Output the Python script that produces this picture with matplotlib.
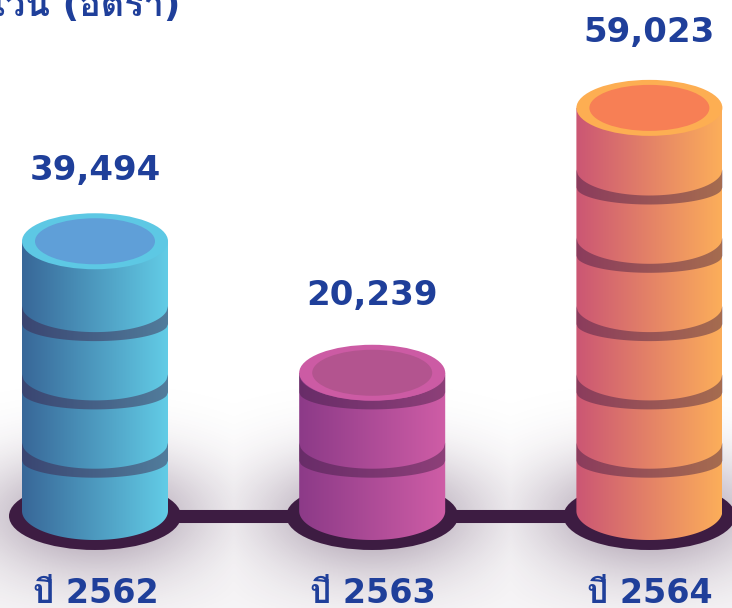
import numpy as np
import matplotlib
matplotlib.use("Agg")
import matplotlib.pyplot as plt
from matplotlib import font_manager as fm
from matplotlib.ft2font import FT2Font
from matplotlib.colors import LinearSegmentedColormap, to_rgb
from matplotlib.patches import Ellipse, Polygon

# ---- data ----
categories = ["ปี 2562", "ปี 2563", "ปี 2564"]
values = [39494, 20239, 59023]
value_labels = ["39,494", "20,239", "59,023"]
title = "จำนวน (อัตรา)"
ring_step = 10000

# ---- style ----
left_cols = ["#386798", "#8c3a88", "#cb5674"]
right_cols = ["#62cce6", "#cf5da6", "#fcae5a"]
rim_cols = ["#5dc8e4", "#cc5ba4", "#fdae52"]
inner_cols = ["#5f9fd8", "#b3548f", "#f77f55"]
base_col = "#3d1c42"
text_col = "#1f3f9a"
label_offsets = [71, 77, 75]   # px above the bar top

# font with Thai glyphs, when one is installed
thai = None
for f in fm.fontManager.ttflist:
    try:
        if 0x0E1B in FT2Font(f.fname).get_charmap():
            thai = f.name
            break
    except Exception:
        pass
fam = ["DejaVu Sans"] + ([thai] if thai else [])

W, H = 732, 608
XU = 277.2      # px per category
YU = 0.00683    # px per value
Y0 = 511        # px of value 0
X0 = 95
fig = plt.figure(figsize=(W / 100, H / 100), dpi=100)
ax = fig.add_axes([0, 0, 1, 1])
xlim = (-X0 / XU, (W - X0) / XU)
ylim = (-(H - Y0) / YU, Y0 / YU)
ax.axis("off")

hw = 73 / XU
hh = 29 / YU
top_hh = 28 / YU
t = np.linspace(0, np.pi, 100)

# soft shadow
gx = np.linspace(*xlim, 366)
gy = np.linspace(*ylim, 304)
X, Y = np.meshgrid(gx, gy)
sh = np.zeros_like(X)
for i, v in enumerate(values):
    dx = (X - i) * XU
    dy = (Y + 800) * YU
    sh = np.maximum(sh, 0.40 * np.exp(-(dx / 120) ** 2 - (dy / 62) ** 2))
sh = np.clip(sh + 0.035 * np.exp(-((Y + 14000) * YU / 40) ** 2), 0, 1)
rgba = np.zeros(X.shape + (4,))
rgba[..., :3] = to_rgb(base_col)
rgba[..., 3] = sh
ax.imshow(rgba, extent=(*xlim, *ylim), origin="lower", aspect="auto", zorder=0, interpolation="bilinear")

# connector and base plates
ax.plot([0, len(values) - 1], [-800, -800], color=base_col, lw=9.4, solid_capstyle="butt", zorder=1)
for i in range(len(values)):
    ax.add_patch(Ellipse((i, -730), 2 * 86 / XU, 2 * 34 / YU, color=base_col, lw=0, zorder=2))

# cylinders
for i, v in enumerate(values):
    xs = i + hw * np.cos(t)
    ys = -hh * np.sin(t)
    body = np.column_stack([np.r_[i - hw, xs[::-1], i + hw], np.r_[v, ys[::-1], v]])
    patch = Polygon(body, closed=True, fc="none", ec="none", transform=ax.transData)
    ax.add_patch(patch)
    cm = LinearSegmentedColormap.from_list("c", [left_cols[i], right_cols[i]])
    im = ax.imshow(np.linspace(0, 1, 256)[None, :], cmap=cm, aspect="auto", zorder=3,
                   extent=(i - hw, i + hw, -hh, v))
    im.set_clip_path(patch)
    # rings every ring_step
    k = ring_step
    while k <= v:
        u = np.linspace(-1, 1, 100)
        top = k - 26 / YU * np.sqrt(1 - u ** 2)
        low = k - (18 + 17 * np.sqrt(1 - u ** 2)) / YU
        ring = np.column_stack([np.r_[i + hw * u, i + hw * u[::-1]], np.r_[top, low[::-1]]])
        ax.add_patch(Polygon(ring, closed=True, fc=base_col, ec="none", alpha=0.45, zorder=4))
        k += ring_step
    # top
    ax.add_patch(Ellipse((i, v), 2 * hw, 2 * top_hh, color=rim_cols[i], lw=0, zorder=5))
    ax.add_patch(Ellipse((i, v), 2 * 60 / XU, 2 * 23 / YU, color=inner_cols[i], lw=0, zorder=6))
    # labels
    ax.text(i, v + label_offsets[i] / YU, value_labels[i], ha="center", va="center", fontsize=24.5,
            fontweight="bold", family=fam, color=text_col, zorder=7)
    ax.text(i + 0.003, -92 / YU, categories[i], ha="center", va="baseline", fontsize=24,
            fontweight="bold", family=fam, color=text_col, zorder=7)

ax.text(-(X0 - 180) / XU, (Y0 - 16) / YU, title, ha="right", va="baseline", fontsize=26,
        fontweight="bold", family=fam, color=text_col, zorder=7)

ax.set_xlim(*xlim)
ax.set_ylim(*ylim)
fig.savefig("out.png", dpi=100)
